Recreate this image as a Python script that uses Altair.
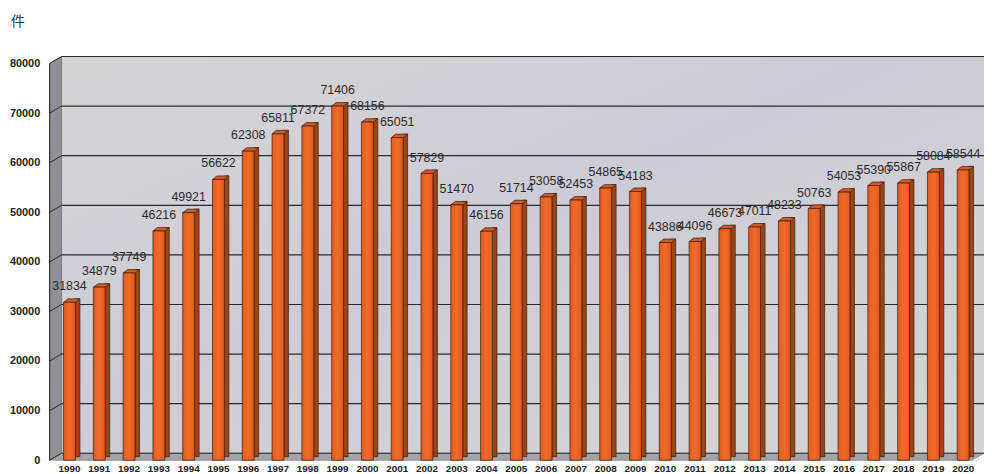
import altair as alt
import pandas as pd

years = [str(y) for y in range(1990, 2021)]
values = [31834, 34879, 37749, 46216, 49921, 56622, 62308, 65811, 67372, 71406,
          68156, 65051, 57829, 51470, 46156, 51714, 53058, 52453, 54865, 54183,
          43886, 44096, 46673, 47011, 48233, 50763, 54053, 55390, 55867, 58084, 58544]
y_ticks = [0, 10000, 20000, 30000, 40000, 50000, 60000, 70000, 80000]
unit_label = "件"

df = pd.DataFrame({"year": years, "value": values})
grid_df = pd.DataFrame({"g": y_ticks})

W, H = 931, 400
yscale = alt.Scale(domain=[0, 80000], nice=False)
xscale = alt.Scale(paddingInner=0.6, paddingOuter=0.3)
one = alt.Data(values=[{"a": 1}])

wall_grad = alt.Gradient(gradient="linear", x1=0, y1=0, x2=1, y2=1,
                         stops=[alt.GradientStop(color="#d5d5d6", offset=0),
                                alt.GradientStop(color="#cdccd6", offset=0.45),
                                alt.GradientStop(color="#d6d5d3", offset=1)])
back_wall = alt.Chart(one).mark_rect(color=wall_grad).encode(
    x=alt.value(7), x2=alt.value(W + 6), y=alt.value(-7), y2=alt.value(H - 7))
left_wall = alt.Chart(one).mark_point(
    shape="M 0 0 L 12 -7 L 12 393 L 0 400 Z", size=4, filled=True,
    fill="#8f8f95", stroke="#555", strokeWidth=0.6, opacity=1).encode(
    x=alt.value(-5), y=alt.value(0))
floor = alt.Chart(one).mark_point(
    shape="M 0 0 L 12 -7 L 942 -7 L 930 0 Z", size=4, filled=True,
    fill="#a4a3aa", stroke="#666", strokeWidth=0.5, opacity=1).encode(
    x=alt.value(-5), y=alt.value(H))

yaxis = alt.Axis(title=None, values=y_ticks, format="d", labelFontSize=11,
                 labelFontWeight="bold", labelFont="Liberation Sans", labelColor="#222",
                 labelPadding=15, domain=False, ticks=False, grid=False)

grid_back = alt.Chart(grid_df).mark_rule(color="#2a2a2a", strokeWidth=1.2, yOffset=-7).encode(
    y=alt.Y("g:Q", scale=yscale, axis=yaxis), x=alt.value(7), x2=alt.value(W + 6))
grid_side = alt.Chart(grid_df).mark_rule(color="#2a2a2a", strokeWidth=1.0, y2Offset=-7).encode(
    y=alt.Y("g:Q", scale=yscale, axis=yaxis), y2="g:Q", x=alt.value(-5), x2=alt.value(7))
front_edge = alt.Chart(one).mark_rule(color="#2a2a2a", strokeWidth=1.0).encode(
    x=alt.value(-5), x2=alt.value(-5), y=alt.value(0), y2=alt.value(H))

base = alt.Chart(df).encode(
    x=alt.X("year:N", scale=xscale, sort=years,
            axis=alt.Axis(title=None, labelAngle=0, labelFontSize=10, labelFontWeight="bold",
                          labelFont="Liberation Sans", labelColor="#222", labelPadding=3,
                          domain=False, ticks=False, labelOverlap=False)),
)

side = base.mark_bar(size=4.5, xOffset=8.25, yOffset=-3.5, y2Offset=-3.5,
                     color="#9a4616", stroke="#3e1a06", strokeWidth=0.7).encode(
    y=alt.Y("value:Q", scale=yscale, axis=yaxis), y2=alt.datum(0))
top = base.mark_point(shape="M -6 0 L 6 0 L 10.5 -3.5 L -1.5 -3.5 Z", size=4, filled=True,
                      fill="#c9602c", stroke="#3e1a06", strokeWidth=0.7, opacity=1).encode(
    y=alt.Y("value:Q", scale=yscale, axis=yaxis))
front_grad = alt.Gradient(gradient="linear", x1=0, y1=0, x2=1, y2=0,
                          stops=[alt.GradientStop(color="#e55a1c", offset=0),
                                 alt.GradientStop(color="#ee6c2a", offset=0.5),
                                 alt.GradientStop(color="#e2581e", offset=1)])
front = base.mark_bar(size=12, color=front_grad, stroke="#3e1a06", strokeWidth=0.7).encode(
    y=alt.Y("value:Q", scale=yscale, axis=yaxis))
labels = base.mark_text(dy=-16, fontSize=12.5, font="Liberation Sans", color="#2a2a2a").encode(
    y=alt.Y("value:Q", scale=yscale, axis=yaxis), text=alt.Text("value:Q", format="d"))

unit = alt.Chart(one).mark_text(text=unit_label, fontSize=14, font="Noto Sans CJK JP",
                                color="#333", align="left", baseline="middle").encode(
    x=alt.value(-44), y=alt.value(-42))

chart = alt.layer(back_wall, left_wall, floor, grid_back, grid_side, front_edge,
                  side, top, front, labels, unit).properties(
    width=W, height=H, autosize="none",
    padding={"left": 47, "top": 54, "right": 6, "bottom": 12},
).configure_view(stroke=None).configure(background="white")

chart.save("out.html", embed_options={"renderer": "svg", "actions": False})
